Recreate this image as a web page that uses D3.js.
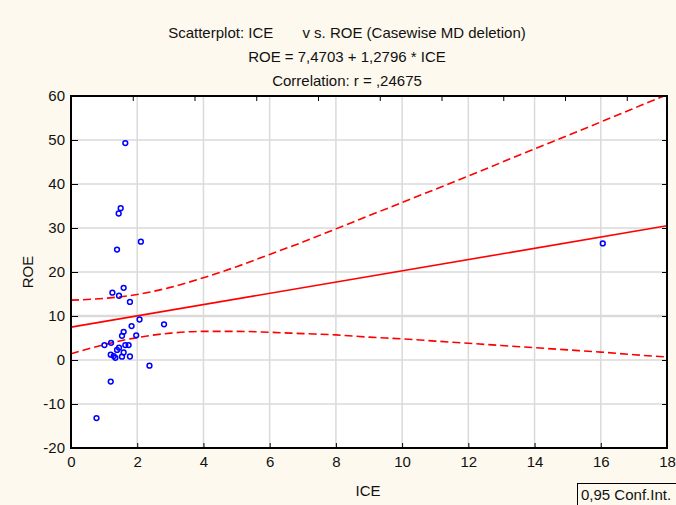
<!DOCTYPE html>
<html>
<head>
<meta charset="utf-8">
<script src="https://cdn.jsdelivr.net/npm/d3@7"></script>
<style>
  html, body { margin: 0; padding: 0; background: #fdf9ee; }
  svg { display: block; font-family: "Liberation Sans", Arial, sans-serif; }
</style>
</head>
<body>
<svg id="chart" width="676" height="505"></svg>
<script>
// ---- data ----
const iceValues = [1.64, 1.50, 1.44, 2.11, 1.39, 1.59, 1.25, 1.45, 1.78, 2.07, 2.81, 1.83, 1.59, 1.54, 1.97,
                   1.01, 1.21, 1.64, 1.74, 1.45, 1.39, 1.20, 1.59, 1.29, 1.34, 1.54, 1.78, 2.37, 1.20, 0.77, 16.06];
const roeValues = [49.3, 34.5, 33.3, 26.9, 25.1, 16.4, 15.3, 14.6, 13.2, 9.2, 8.1, 7.7, 6.4, 5.5, 5.6,
                   3.4, 3.9, 3.4, 3.4, 2.8, 2.3, 1.2, 1.7, 0.9, 0.5, 0.75, 0.8, -1.3, -4.9, -13.2, 26.5];
const intercept = 7.4703;
const slope = 1.2796;
const bandX     = [0, 1, 2, 3, 4, 5, 6, 7, 8, 9, 10, 11, 12, 13, 14, 15, 16, 17, 18];
const bandUpper = [13.6, 14.0, 14.9, 16.5, 18.7, 21.2, 24.0, 26.8, 29.8, 32.8, 35.8, 38.8, 41.8, 44.9, 48.0, 51.0, 54.1, 57.2, 60.3];
const bandLower = [1.4, 3.5, 5.1, 6.1, 6.5, 6.5, 6.3, 6.0, 5.7, 5.2, 4.8, 4.3, 3.8, 3.3, 2.8, 2.3, 1.8, 1.2, 0.7];
const xTicks = [0, 2, 4, 6, 8, 10, 12, 14, 16, 18];
const yTicks = [-20, -10, 0, 10, 20, 30, 40, 50, 60];
const topTicks = [1.865, 3.73, 5.595, 7.46, 9.325, 11.19, 13.055, 14.92, 16.785];
const titleLines = ["Scatterplot: ICE       v s. ROE (Casewise MD deletion)",
                    "ROE = 7,4703 + 1,2796 * ICE",
                    "Correlation: r = ,24675"];
const xLabel = "ICE";
const yLabel = "ROE";
const legendText = "0,95 Conf.Int.";

// ---- layout ----
const svg = d3.select("#chart");
const L = 71, T = 96, R = 667, B = 448;
const x = d3.scaleLinear().domain([0, 18]).range([L, R]);
const y = d3.scaleLinear().domain([-20, 60]).range([B, T]);
const fmt = d => String(d);
const FS = "15px";

// plot background
svg.append("rect").attr("x", L).attr("y", T).attr("width", R - L).attr("height", B - T).attr("fill", "#ffffff");

// grid
const grid = svg.append("g");
grid.selectAll(".vg").data(xTicks.slice(1, -1)).join("line")
  .attr("x1", d => x(d)).attr("x2", d => x(d)).attr("y1", T).attr("y2", B)
  .attr("stroke", "#dadada").attr("stroke-width", 1.5);
grid.selectAll(".hg").data(yTicks.slice(1, -1)).join("line")
  .attr("x1", L).attr("x2", R).attr("y1", d => y(d)).attr("y2", d => y(d))
  .attr("stroke", "#dadada").attr("stroke-width", d => d === 10 ? 2.5 : 1.5);

// clip
svg.append("clipPath").attr("id", "clip").append("rect")
  .attr("x", L).attr("y", T).attr("width", R - L).attr("height", B - T);
const plot = svg.append("g").attr("clip-path", "url(#clip)");

// confidence bands
const bandLine = d3.line().curve(d3.curveMonotoneX).x(d => x(d[0])).y(d => y(d[1]));
plot.append("path").datum(bandX.map((v, i) => [v, bandUpper[i]]))
  .attr("d", bandLine).attr("fill", "none").attr("stroke", "#ff0000")
  .attr("stroke-width", 1.6).attr("stroke-dasharray", "8,4");
plot.append("path").datum(bandX.map((v, i) => [v, bandLower[i]]))
  .attr("d", bandLine).attr("fill", "none").attr("stroke", "#ff0000")
  .attr("stroke-width", 1.6).attr("stroke-dasharray", "8,4");

// regression line
plot.append("line")
  .attr("x1", x(0)).attr("y1", y(intercept))
  .attr("x2", x(18)).attr("y2", y(intercept + slope * 18))
  .attr("stroke", "#ff0000").attr("stroke-width", 1.6);

// points
plot.selectAll("circle").data(iceValues.map((v, i) => [v, roeValues[i]])).join("circle")
  .attr("cx", d => x(d[0])).attr("cy", d => y(d[1])).attr("r", 2.4)
  .attr("fill", "none").attr("stroke", "#0000ff").attr("stroke-width", 1.5);

// axes (ticks inward)
const axB = d3.axisBottom(x).tickValues(xTicks).tickSize(-5).tickPadding(8.5).tickFormat(fmt);
const axL = d3.axisLeft(y).tickValues(yTicks).tickSize(-7).tickPadding(6).tickFormat(fmt);
const axR = d3.axisRight(y).tickValues(yTicks).tickSize(-5).tickFormat("");
const axT = d3.axisTop(x).tickValues(topTicks).tickSize(-5).tickFormat("");

function styleAxis(g) {
  g.select(".domain").remove();
  g.selectAll(".tick line").attr("stroke", "#000").attr("stroke-width", 1);
  g.selectAll(".tick text").attr("fill", "#111").style("font-size", FS)
    .style("font-family", "'Liberation Sans', Arial, sans-serif");
}
svg.append("g").attr("transform", `translate(0,${B})`).call(axB).call(styleAxis);
svg.append("g").attr("transform", `translate(${L},0)`).call(axL).call(styleAxis);
svg.append("g").attr("transform", `translate(${R},0)`).call(axR).call(styleAxis);
svg.append("g").attr("transform", `translate(0,${T})`).call(axT).call(styleAxis);

// frame
svg.append("rect").attr("x", L).attr("y", T).attr("width", R - L).attr("height", B - T)
  .attr("fill", "none").attr("stroke", "#000").attr("stroke-width", 2);

// titles
svg.selectAll(".title").data(titleLines).join("text")
  .attr("x", 347).attr("y", (d, i) => 37.5 + i * 24.3)
  .attr("text-anchor", "middle").attr("fill", "#111")
  .style("font-size", FS).style("white-space", "pre")
  .text(d => d);

// axis labels
svg.append("text").attr("x", 368).attr("y", 496).attr("text-anchor", "middle")
  .attr("fill", "#111").style("font-size", FS).text(xLabel);
svg.append("text").attr("transform", "translate(33,272) rotate(-90)").attr("text-anchor", "middle")
  .attr("fill", "#111").style("font-size", FS).text(yLabel);

// legend box
svg.append("rect").attr("x", 577.5).attr("y", 483.5).attr("width", 100).attr("height", 25)
  .attr("fill", "#fdf9ee").attr("stroke", "#000").attr("stroke-width", 1);
svg.append("text").attr("x", 581).attr("y", 500).attr("fill", "#111")
  .style("font-size", FS).text(legendText);
</script>
</body>
</html>
